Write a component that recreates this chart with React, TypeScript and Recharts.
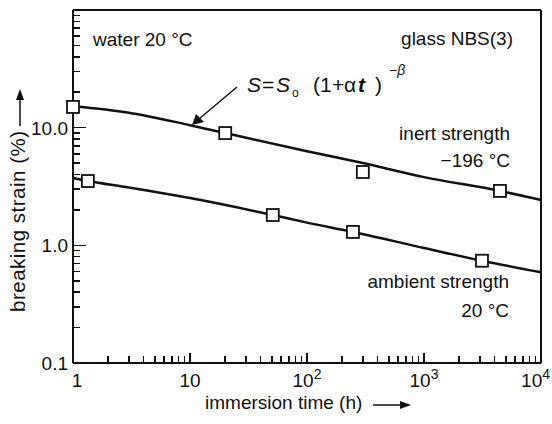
import React from 'react';
import { ComposedChart, Line, Scatter, XAxis, YAxis, Customized } from 'recharts';

// measured points (immersion time in h, breaking strain in %)
const inertTimes = [1, 20, 300, 4460];
const inertStrain = [15.0, 9.0, 4.2, 2.9];
const ambientTimes = [1.34, 51, 247, 3130];
const ambientStrain = [3.52, 1.81, 1.3, 0.74];

// fitted curves S = S0 (1 + a t)^-b
const inertFitTimes = [1, 3, 10, 20, 100, 300, 1000, 4460, 10000];
const inertFitStrain = [15.2, 13.4, 10.5, 9.0, 6.3, 5.0, 3.8, 2.9, 2.43];
const ambientFitTimes = [1, 1.34, 3, 10, 51, 100, 247, 1000, 3130, 10000];
const ambientFitStrain = [3.73, 3.52, 3.1, 2.52, 1.81, 1.56, 1.3, 0.95, 0.74, 0.59];

const xLabelValues = [1, 10, 100, 1000, 10000];
const xLabelPowers = ['', '', '2', '3', '4'];
const xMajor = [10, 100, 1000];
const yLabelValues = [0.1, 1, 10];
const yLabels = ['0.1', '1.0', '10.0'];
const yMajor = [1, 10];

const minorsOf = (decades: number[]) =>
  decades.flatMap((d) => [2, 3, 4, 5, 6, 7, 8, 9].map((m) => +(m * d).toPrecision(3)));
const xTicks = [...xMajor, ...minorsOf([1, 10, 100, 1000])].sort((a, b) => a - b);
const yTicks = [...yMajor, ...minorsOf([0.1, 1, 10])].sort((a, b) => a - b);

const zip = (ts: number[], ss: number[]) => ts.map((t, i) => ({ t, s: ss[i] }));
const inertPts = zip(inertTimes, inertStrain);
const ambientPts = zip(ambientTimes, ambientStrain);
const inertFit = zip(inertFitTimes, inertFitStrain);
const ambientFit = zip(ambientFitTimes, ambientFitStrain);

const FONT = '"Liberation Sans", Arial, sans-serif';
const INK = '#111';
const tickStyle = { stroke: INK, strokeWidth: 1.5, shapeRendering: 'crispEdges' as const };

const BottomTick = (p: any) => {
  const v = p.payload.value;
  const i = xLabelValues.indexOf(v);
  const len = xMajor.includes(v) ? 10 : 7;
  let anchor: 'middle' | 'end' = 'middle';
  let lx = p.x;
  if (v === 1) lx = p.x + 4;
  if (v === 10000) {
    anchor = 'end';
    lx = p.x + 9;
  }
  return (
    <g>
      {v > 1 && v < 10000 && <line x1={p.x} x2={p.x} y1={p.y} y2={p.y - len} {...tickStyle} />}
      {i >= 0 && (
        <text x={lx} y={p.y + 24} textAnchor={anchor} fontSize={19} fontFamily={FONT} fill={INK}>
          {v === 1 ? '1' : '10'}
          {xLabelPowers[i] ? <tspan dy={-8} fontSize={14}>{xLabelPowers[i]}</tspan> : null}
        </text>
      )}
    </g>
  );
};

const TopTick = (p: any) => <line x1={p.x} x2={p.x} y1={p.y} y2={p.y + 12} {...tickStyle} />;

const LeftTick = (p: any) => {
  const v = p.payload.value;
  const i = yLabelValues.indexOf(v);
  const len = yMajor.includes(v) ? 13 : 7;
  return (
    <g>
      {v > 0.1 && v < 100 && <line x1={p.x} x2={p.x + len} y1={p.y} y2={p.y} {...tickStyle} />}
      {i >= 0 && (
        <text x={p.x - 5} y={p.y + 7} textAnchor="end" fontSize={19} fontFamily={FONT} fill={INK}>
          {yLabels[i]}
        </text>
      )}
    </g>
  );
};

const RightTick = (p: any) => {
  const v = p.payload.value;
  const len = yMajor.includes(v) ? 10 : 6;
  return <line x1={p.x} x2={p.x - len} y1={p.y} y2={p.y} {...tickStyle} />;
};

const Square = (p: any) => (
  <rect x={p.cx - 6} y={p.cy - 6} width={12} height={12} fill="#fff" stroke={INK} strokeWidth={1.8} />
);

const Notes = () => {
  const t = { fontFamily: FONT, fill: INK, fontSize: 19 };
  const f = { fontFamily: FONT, fill: INK, fontSize: 21 };
  return (
    <g>
      <text x={93} y={46} {...t}>water 20 °C</text>
      <text x={513} y={45} textAnchor="end" {...t}>glass NBS(3)</text>

      <text x={247} y={92} {...f} fontStyle="italic">S</text>
      <text x={262} y={92} {...f}>=</text>
      <text x={276} y={92} {...f} fontStyle="italic">S</text>
      <text x={292} y={97} {...f} fontSize={12}>o</text>
      <text x={313} y={92} {...f}>(1</text>
      <text x={332} y={92} {...f}>+</text>
      <text x={344} y={92} {...f}>α</text>
      <text x={358} y={92} {...f} fontStyle="italic" fontWeight="bold">t</text>
      <text x={375} y={92} {...f}>)</text>
      <text x={389} y={75} {...f} fontSize={14}>
        −<tspan fontStyle="italic">β</tspan>
      </text>
      <line x1={237} y1={87} x2={199} y2={119} stroke={INK} strokeWidth={1.5} />
      <polygon points="192,125 196,114 204,122" fill={INK} />

      <text x={510} y={140} textAnchor="end" {...t}>inert strength</text>
      <text x={510} y={167} textAnchor="end" {...t}>−196 °C</text>
      <text x={509} y={288} textAnchor="end" {...t}>ambient strength</text>
      <text x={509} y={317} textAnchor="end" {...t}>20 °C</text>

      <text x={205} y={409} {...t}>immersion time (h)</text>
      <line x1={373} y1={405} x2={402} y2={405} stroke={INK} strokeWidth={1.5} />
      <polygon points="411,405 400,401 400,409" fill={INK} />

      <text
        x={25}
        y={312}
        transform="rotate(-90 25 312)"
        {...t}
        fontSize={20.5}
        letterSpacing={0.5}
      >
        breaking strain (%)
      </text>
      <line x1={20} y1={126} x2={20} y2={99} stroke={INK} strokeWidth={1.5} />
      <polygon points="20,89 16,100 24,100" fill={INK} />
    </g>
  );
};

export default function App() {
  return (
    <div style={{ position: 'absolute', left: 0, top: 0, background: '#fff' }}>
      <ComposedChart width={552} height={424} margin={{ top: 9, right: 10, bottom: 31, left: 13 }}>
        <XAxis
          dataKey="t"
          type="number"
          scale="log"
          domain={[1, 10000]}
          ticks={[1, ...xTicks, 10000]}
          interval={0}
          height={30}
          tickSize={0}
          tickMargin={0}
          axisLine={{ stroke: INK, strokeWidth: 2 }}
          tickLine={false}
          tick={(p: any) => <BottomTick {...p} />}
        />
        <XAxis
          xAxisId="top"
          orientation="top"
          dataKey="t"
          type="number"
          scale="log"
          domain={[1, 10000]}
          ticks={xMajor}
          interval={0}
          height={1}
          tickSize={0}
          tickMargin={0}
          axisLine={{ stroke: INK, strokeWidth: 2 }}
          tickLine={false}
          tick={(p: any) => <TopTick {...p} />}
        />
        <YAxis
          dataKey="s"
          type="number"
          scale="log"
          domain={[0.1, 100]}
          ticks={[0.1, ...yTicks]}
          interval={0}
          width={60}
          tickSize={0}
          tickMargin={0}
          axisLine={{ stroke: INK, strokeWidth: 2 }}
          tickLine={false}
          tick={(p: any) => <LeftTick {...p} />}
        />
        <YAxis
          yAxisId="right"
          orientation="right"
          dataKey="s"
          type="number"
          scale="log"
          domain={[0.1, 100]}
          ticks={yTicks}
          interval={0}
          width={1}
          tickSize={0}
          tickMargin={0}
          axisLine={{ stroke: INK, strokeWidth: 2 }}
          tickLine={false}
          tick={(p: any) => <RightTick {...p} />}
        />
        <Line data={inertFit} dataKey="s" type="monotone" stroke={INK} strokeWidth={2.5} dot={false} isAnimationActive={false} />
        <Line data={ambientFit} dataKey="s" type="monotone" stroke={INK} strokeWidth={2.5} dot={false} isAnimationActive={false} />
        <Scatter data={inertPts} dataKey="s" shape={Square} isAnimationActive={false} />
        <Scatter data={ambientPts} dataKey="s" shape={Square} isAnimationActive={false} />
        <Customized component={Notes} />
      </ComposedChart>
    </div>
  );
}
